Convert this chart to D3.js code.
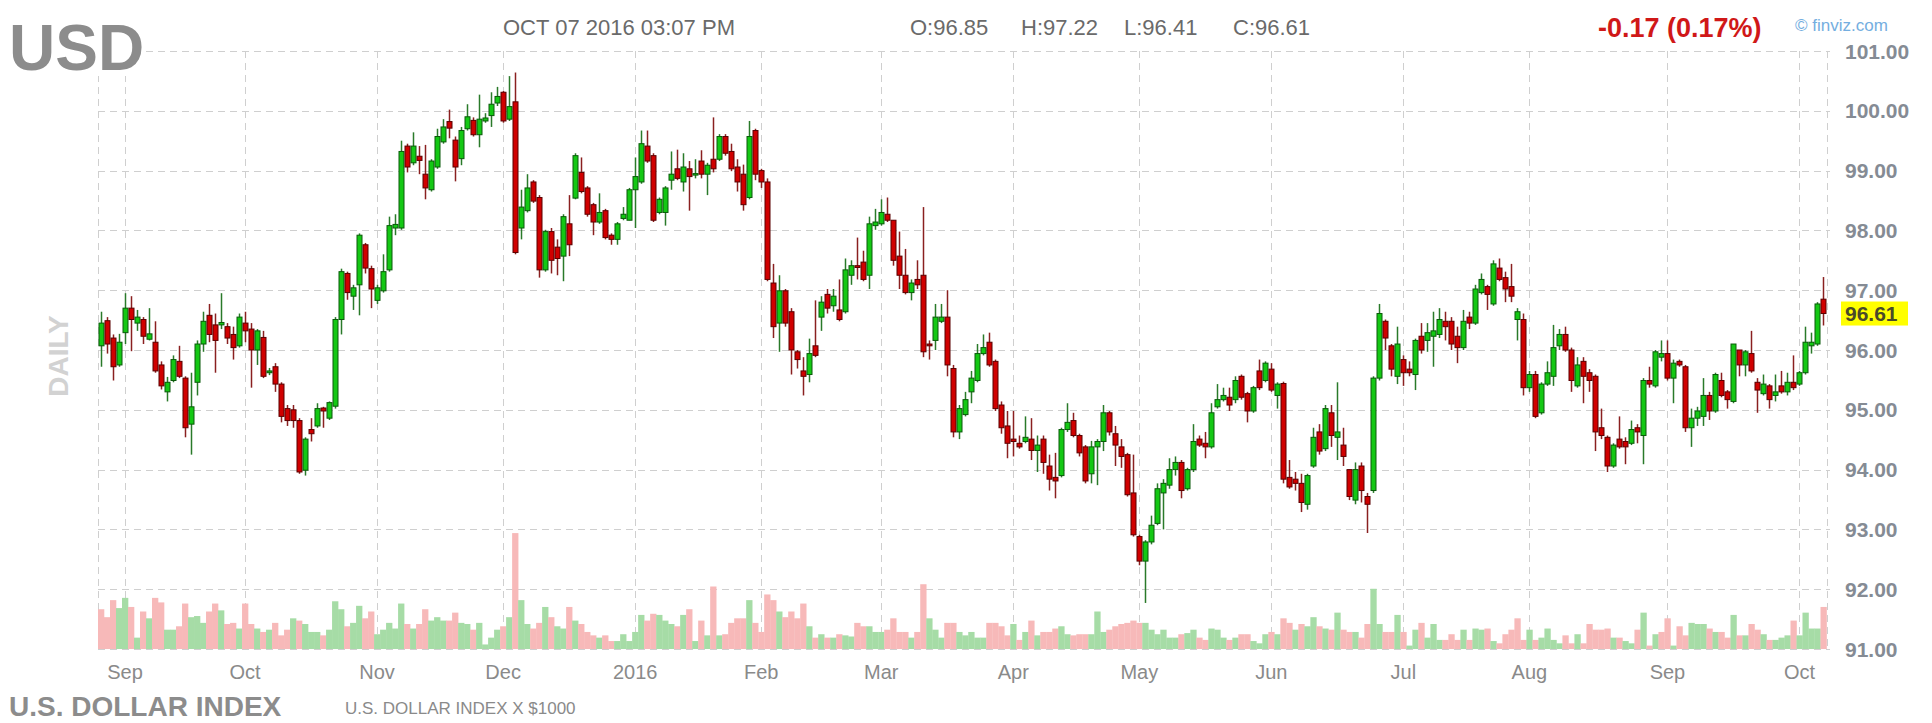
<!DOCTYPE html>
<html><head><meta charset="utf-8">
<script src="https://cdn.jsdelivr.net/npm/d3@7"></script>
<style>html,body{margin:0;padding:0;background:#fff;}svg{display:block;}</style>
</head><body>
<svg id="c" width="1932" height="723"></svg>
<script>
// ---- DATA (daily candles, Aug 26 2015 - Oct 7 2016) ----
const open=[96.07,96.49,96.20,95.75,96.29,96.70,96.45,96.51,96.18,96.13,95.75,95.30,95.49,95.81,95.53,94.76,95.46,96.10,96.58,96.42,96.42,96.39,96.26,96.07,96.45,96.35,96.00,96.21,95.62,95.72,95.43,95.02,95.00,94.82,93.99,94.67,94.73,95.03,94.86,95.06,96.51,97.28,96.90,97.09,97.76,97.36,96.83,96.99,97.34,98.04,98.04,99.41,99.13,99.24,98.94,98.68,99.06,99.48,99.82,99.51,99.20,99.70,99.84,99.60,99.83,99.92,100.13,100.31,99.86,100.15,98.04,98.33,98.81,98.55,97.34,97.98,97.72,97.57,98.11,98.54,98.97,98.71,98.43,98.14,98.33,97.92,97.85,98.20,98.17,98.68,98.81,99.41,99.25,98.30,98.30,98.84,99.03,98.81,99.03,98.93,99.16,98.94,99.19,99.19,99.57,99.32,99.06,98.94,98.55,99.67,99.00,98.81,97.12,96.45,96.99,96.64,95.97,95.65,95.59,96.07,96.55,96.93,96.74,96.67,96.64,97.25,97.41,97.47,97.25,98.08,98.11,98.27,98.17,97.57,97.25,96.96,97.18,97.25,96.10,96.16,96.48,96.55,95.69,94.63,94.92,95.30,95.49,95.94,96.13,95.81,95.08,94.73,94.51,94.44,94.47,94.51,94.32,94.51,94.06,93.87,93.90,94.67,94.82,94.57,94.38,93.93,94.38,94.47,94.95,94.60,94.38,94.25,93.61,92.88,92.47,92.79,93.10,93.61,93.74,94.00,94.12,93.68,94.00,94.51,94.44,94.38,95.05,95.17,95.21,95.17,95.56,95.27,94.98,95.65,95.49,95.68,95.24,95.44,93.87,93.84,93.77,93.42,94.06,94.63,94.35,94.95,94.54,94.41,94.00,93.49,94.06,93.55,93.65,95.53,96.48,96.07,95.56,95.84,95.68,95.59,96.23,96.16,96.23,96.26,96.48,96.48,96.23,96.04,96.55,96.45,96.96,97.06,96.77,97.37,97.21,97.06,96.51,96.51,95.37,95.59,94.95,95.43,95.56,96.07,96.26,96.00,95.40,95.81,95.62,95.56,94.70,94.54,94.06,94.51,94.47,94.44,94.70,94.57,95.49,95.40,95.88,95.94,95.53,95.81,95.72,94.70,94.86,94.89,95.24,94.98,95.49,95.30,95.14,96.00,95.75,95.94,95.46,95.27,95.40,95.24,95.40,95.30,95.46,95.43,95.62,96.07,96.10,96.85];
const high=[96.64,96.55,96.26,96.27,96.95,96.90,96.67,96.55,96.70,96.48,95.81,95.55,95.91,96.07,95.56,95.62,96.16,96.64,96.77,96.61,96.95,96.45,96.39,96.61,96.64,96.45,96.35,96.32,95.70,95.78,95.46,95.08,95.08,94.86,94.54,94.86,95.11,95.05,95.14,96.55,97.36,97.31,97.09,97.95,97.79,97.41,97.09,97.60,98.23,98.27,99.50,99.45,99.64,99.41,99.43,99.19,99.70,99.86,100.02,99.57,99.73,100.11,99.89,100.27,99.96,100.31,100.40,100.33,100.58,100.64,98.68,98.94,98.84,98.59,98.01,98.04,97.85,98.27,98.59,99.29,99.22,98.74,98.46,98.62,98.36,97.95,98.14,98.39,98.71,99.22,99.67,99.67,99.29,98.55,98.74,99.32,99.35,99.29,99.16,99.19,99.34,99.13,99.89,99.61,99.61,99.45,99.19,99.10,99.83,99.70,99.03,98.87,97.44,97.25,97.02,96.70,96.00,95.88,96.19,96.83,96.90,97.02,97.02,97.18,97.53,97.50,97.88,97.66,98.23,98.36,98.52,98.55,98.17,97.98,97.69,97.18,97.50,98.39,96.16,96.77,96.77,97.00,95.75,95.08,95.30,95.65,96.10,96.26,96.29,95.84,95.14,94.98,94.98,94.57,94.89,94.86,94.57,94.57,94.25,94.28,94.70,95.11,94.95,94.60,94.41,94.48,94.51,95.08,94.98,94.73,94.51,94.28,94.25,92.91,92.82,93.23,93.77,93.84,94.19,94.22,94.16,94.03,94.76,94.57,94.63,95.11,95.43,95.37,95.37,95.56,95.59,95.30,95.40,95.84,95.81,95.78,95.46,95.47,94.16,93.96,93.93,93.93,94.70,94.76,95.08,95.08,95.46,94.70,94.00,94.12,94.12,93.61,95.56,96.77,96.51,96.10,96.39,95.91,95.81,96.19,96.45,96.45,96.64,96.70,96.64,96.55,96.39,96.67,96.64,97.09,97.28,97.09,97.50,97.53,97.31,97.44,96.70,96.61,95.65,95.65,95.46,95.81,96.42,96.35,96.39,96.04,95.88,95.88,95.68,95.59,95.02,94.57,94.44,94.89,94.54,94.82,94.76,95.53,95.72,96.00,96.16,96.16,95.84,95.84,95.75,95.02,95.05,95.53,95.30,95.62,95.62,95.33,96.10,96.00,96.00,96.32,95.53,95.59,95.43,95.59,95.65,95.62,95.91,95.65,96.39,96.29,96.80,97.22];
const low=[95.72,95.94,95.49,95.72,96.10,95.98,96.32,96.10,96.16,95.62,95.34,95.14,95.46,95.53,94.54,94.25,95.24,95.97,96.13,95.62,96.35,96.10,95.84,96.04,96.13,95.37,95.75,95.53,95.58,95.30,94.79,94.73,94.70,93.93,93.90,94.47,94.70,94.70,94.83,95.02,96.26,96.84,96.67,96.58,97.28,96.70,96.77,96.96,97.31,97.92,98.01,98.97,99.09,98.94,98.52,98.65,99.03,99.45,99.54,98.82,99.09,99.67,99.57,99.39,99.80,99.73,100.08,99.80,99.83,97.60,97.85,98.30,98.46,97.21,97.31,97.28,97.25,97.15,97.57,98.52,98.62,98.23,97.92,98.11,97.85,97.76,97.76,98.17,98.17,98.04,98.78,99.13,98.14,98.27,98.08,98.68,98.84,98.65,98.33,98.87,98.87,98.59,98.97,99.16,99.25,98.99,98.65,98.33,98.52,98.84,98.71,97.15,96.20,95.97,96.39,95.59,95.69,95.24,95.46,95.88,96.32,96.61,96.64,96.48,96.61,97.09,97.18,97.15,97.02,98.01,98.08,98.14,97.41,97.02,96.93,96.83,97.02,95.88,95.84,96.00,96.45,95.56,94.54,94.51,94.89,95.11,95.46,95.91,95.72,94.98,94.60,94.19,94.22,94.35,94.44,94.16,93.96,93.93,93.65,93.52,93.87,94.63,94.54,94.22,93.77,93.77,93.74,94.31,94.57,94.06,94.03,93.55,92.88,92.40,91.77,92.75,93.07,93.00,93.68,93.90,93.52,93.65,93.96,94.38,94.19,94.35,95.02,95.14,94.98,95.11,95.17,94.79,94.95,95.33,95.46,95.30,95.02,93.77,93.68,93.65,93.29,93.33,94.03,94.25,94.31,94.38,94.16,94.06,93.49,93.42,93.45,92.94,93.61,95.49,96.00,95.56,95.43,95.40,95.56,95.33,95.94,95.97,95.72,96.20,96.16,96.00,95.78,96.00,96.35,96.42,96.93,96.67,96.74,97.15,96.80,96.80,96.16,95.24,95.30,94.86,94.92,95.40,95.40,96.00,95.97,95.30,95.37,95.11,95.30,94.31,94.51,93.96,94.03,94.35,94.09,94.41,94.44,94.09,95.37,95.37,95.81,95.49,95.11,95.72,94.63,94.38,94.73,94.73,94.83,94.95,95.21,95.02,95.11,95.56,95.56,95.62,94.95,95.24,95.02,95.14,95.27,95.24,95.33,95.40,95.59,95.94,96.07,96.41];
const close=[96.45,96.10,95.72,96.13,96.70,96.51,96.55,96.23,96.27,95.65,95.40,95.46,95.84,95.56,94.70,95.05,96.10,96.48,96.26,96.16,96.46,96.20,96.04,96.55,96.32,96.00,96.32,95.56,95.65,95.43,94.89,94.82,94.82,93.96,94.51,94.60,95.02,94.98,95.12,96.51,97.31,96.96,97.04,97.92,97.37,97.02,97.04,97.31,98.08,98.10,99.32,99.06,99.41,99.17,98.71,99.16,99.57,99.73,99.71,99.06,99.67,99.90,99.60,99.86,99.88,100.11,100.24,99.83,100.07,97.63,98.39,98.71,98.49,97.34,97.98,97.50,97.53,98.23,97.76,99.25,98.65,98.27,98.14,98.30,97.88,97.85,98.11,98.27,98.68,98.90,99.45,99.16,98.17,98.52,98.71,98.94,98.87,99.06,98.90,98.95,98.94,99.09,99.03,99.57,99.29,99.03,98.81,98.43,99.57,98.94,98.81,97.18,96.39,96.99,96.45,96.00,95.84,95.56,95.94,95.91,96.80,96.70,96.90,96.51,97.34,97.41,97.38,97.18,98.11,98.14,98.30,98.17,97.50,97.25,96.96,97.12,97.09,95.97,96.07,96.55,96.55,95.75,94.63,95.02,95.17,95.53,95.94,96.04,95.75,95.02,94.70,94.44,94.47,94.38,94.54,94.32,94.41,94.12,93.84,93.81,94.67,94.79,94.57,94.28,93.81,94.38,94.47,94.95,94.63,94.41,94.22,93.58,92.91,92.47,92.79,93.07,93.68,93.77,94.00,94.12,93.65,94.00,94.47,94.41,94.38,94.95,95.17,95.24,95.08,95.49,95.21,94.98,95.37,95.37,95.78,95.33,95.43,93.84,93.71,93.77,93.45,93.90,94.54,94.31,95.02,94.57,94.63,94.22,93.55,94.00,93.65,93.42,95.53,96.61,96.20,95.68,96.10,95.62,95.62,96.16,96.00,96.29,96.32,96.51,96.39,96.10,96.04,96.48,96.45,97.02,97.18,96.93,97.44,97.18,97.02,96.90,96.64,95.37,95.59,94.89,95.43,95.62,96.04,96.26,96.00,95.49,95.75,95.56,95.49,94.63,94.57,94.06,94.41,94.38,94.38,94.67,94.63,95.49,95.43,95.97,95.94,95.53,95.78,95.75,94.70,94.86,94.98,95.24,94.98,95.59,95.24,95.17,96.10,95.75,95.97,95.65,95.33,95.43,95.17,95.30,95.30,95.46,95.37,95.62,96.13,96.13,96.77,96.61];
// volume, thousands of contracts
const volume=[35,28,43,36,45,37,10,33,27,45,41,17,17,20,40,28,29,23,33,40,34,22,23,18,40,22,18,15,17,23,12,17,27,25,22,15,15,12,17,42,35,20,23,38,27,33,13,17,23,18,40,22,18,22,35,25,28,25,25,32,23,22,17,23,4,10,17,20,28,102,43,22,18,23,37,28,20,18,37,25,22,15,12,10,12,7,7,13,7,15,30,25,31,30,25,22,20,30,35,7,25,12,55,12,13,23,27,27,43,23,15,48,43,33,28,33,27,40,20,10,13,10,10,13,12,11,23,20,20,15,15,17,27,15,15,10,15,57,27,17,10,23,23,15,12,15,10,10,23,23,20,12,22,8,15,25,12,15,15,18,20,13,12,13,13,13,33,15,17,20,22,23,25,23,23,17,13,17,10,10,13,14,17,10,8,18,17,10,8,10,13,13,7,5,13,15,13,27,23,17,22,20,28,20,18,17,32,17,15,15,10,22,53,22,15,15,30,15,3,17,23,10,22,8,8,13,8,17,8,18,17,18,7,5,13,17,27,8,17,8,10,18,8,5,12,5,13,5,22,17,17,18,10,10,7,5,17,32,3,13,15,27,3,20,12,23,22,22,18,15,15,10,30,12,12,22,17,13,8,8,10,12,25,12,32,18,18,37];
const prevCloseBeforeFirst=96.80;
// x-axis: trading-day index of first session of each month, and its label
const monthStartIdx=[4,24,46,67,89,110,130,152,173,195,217,238,261,283];
const monthLabels=["Sep","Oct","Nov","Dec","2016","Feb","Mar","Apr","May","Jun","Jul","Aug","Sep","Oct"];
const priceTicks=[91,92,93,94,95,96,97,98,99,100,101];
const lastBar={o:96.85,h:97.22,l:96.41,c:96.61,chg:-0.17,pct:0.17};

// ---- CHART ----
const svg=d3.select("#c");
const N=close.length;
const idx=d3.range(N);
const L=98,R=1826.5,T=51,B=649;
const x=d3.scaleBand().domain(idx).range([L,R]).paddingInner(0).paddingOuter(0);
const cx=i=>x(i)+x.bandwidth()/2;
const y=d3.scaleLinear().domain([91,101]).range([B,T]);
const yv=d3.scaleLinear().domain([0,110]).range([B,B-125]);

const grid=svg.append("g").attr("stroke","#cfcfcf").attr("stroke-width",1).attr("stroke-dasharray","7,5");
grid.selectAll("line.h").data(priceTicks).join("line")
  .attr("x1",L).attr("x2",1830).attr("y1",d=>Math.round(y(d))+0.5).attr("y2",d=>Math.round(y(d))+0.5);
grid.selectAll("line.v").data(monthStartIdx).join("line")
  .attr("x1",d=>Math.round(cx(d))+0.5).attr("x2",d=>Math.round(cx(d))+0.5).attr("y1",T).attr("y2",B);
grid.append("line").attr("x1",L+0.5).attr("x2",L+0.5).attr("y1",T).attr("y2",B);
grid.append("line").attr("x1",1827.5).attr("x2",1827.5).attr("y1",T).attr("y2",B);

// volume bars
const up=i=>close[i]>=(i>0?close[i-1]:prevCloseBeforeFirst);
svg.append("g").selectAll("rect").data(idx).join("rect")
  .attr("x",i=>x(i)).attr("width",x.bandwidth()+0.3)
  .attr("y",i=>yv(volume[i])).attr("height",i=>B-yv(volume[i]))
  .attr("fill",i=>up(i)?"#a6dca6":"#f7b9b9");

// candles
const g=svg.append("g");
const bull=i=>close[i]>=open[i];
g.selectAll("line").data(idx).join("line")
  .attr("x1",i=>Math.round(cx(i))+0.5).attr("x2",i=>Math.round(cx(i))+0.5)
  .attr("y1",i=>y(high[i])).attr("y2",i=>y(low[i]))
  .attr("stroke",i=>bull(i)?"#2a7a2a":"#8a2020").attr("stroke-width",1.5);
g.selectAll("rect").data(idx).join("rect")
  .attr("x",i=>Math.round(cx(i))-2).attr("width",5)
  .attr("y",i=>y(Math.max(open[i],close[i])))
  .attr("height",i=>Math.max(1.5,Math.abs(y(open[i])-y(close[i]))))
  .attr("fill",i=>bull(i)?"#14c814":"#d00000")
  .attr("stroke",i=>bull(i)?"#0a5a0a":"#5a0000").attr("stroke-width",1);

// y axis labels
const yl=svg.append("g").attr("font-family","Liberation Sans, Arial, sans-serif").attr("font-weight","bold").attr("font-size",21).attr("fill","#858b94");
yl.selectAll("text").data(priceTicks).join("text")
  .attr("x",1845).attr("y",d=>y(d)).attr("dy","0.36em").text(d=>d.toFixed(2));
svg.append("rect").attr("x",1841).attr("y",y(lastBar.c)-12).attr("width",67).attr("height",24).attr("fill","#ffff00");
svg.append("text").attr("x",1845).attr("y",y(lastBar.c)).attr("dy","0.36em")
  .attr("font-family","Liberation Sans, Arial, sans-serif").attr("font-weight","bold").attr("font-size",21).attr("fill","#4a4a2a").text(lastBar.c.toFixed(2));

// x axis labels
svg.append("g").attr("font-family","Liberation Sans, Arial, sans-serif").attr("font-size",20).attr("fill","#8a8a8a").attr("text-anchor","middle")
  .selectAll("text").data(monthStartIdx).join("text")
  .attr("x",d=>cx(d)).attr("y",679).text((d,i)=>monthLabels[i]);

// titles
svg.append("rect").attr("x",6).attr("y",20).attr("width",140).attr("height",56).attr("fill","#fff");
svg.append("text").attr("x",9).attr("y",70).attr("font-family","Liberation Sans, Arial, sans-serif").attr("font-weight","bold").attr("font-size",64).attr("fill","#8c8c8c").text("USD");
const hdr=svg.append("g").attr("font-family","Liberation Sans, Arial, sans-serif").attr("font-size",22).attr("fill","#6a6a6a");
hdr.append("text").attr("x",503).attr("y",35).text("OCT 07 2016 03:07 PM");
hdr.append("text").attr("x",910).attr("y",35).text("O:"+lastBar.o.toFixed(2));
hdr.append("text").attr("x",1021).attr("y",35).text("H:"+lastBar.h.toFixed(2));
hdr.append("text").attr("x",1124).attr("y",35).text("L:"+lastBar.l.toFixed(2));
hdr.append("text").attr("x",1233).attr("y",35).text("C:"+lastBar.c.toFixed(2));
svg.append("text").attr("x",1598).attr("y",37).attr("font-family","Liberation Sans, Arial, sans-serif").attr("font-weight","bold").attr("font-size",27).attr("fill","#d01818")
  .text(lastBar.chg.toFixed(2)+" ("+lastBar.pct.toFixed(2)+"%)");
svg.append("text").attr("x",1795).attr("y",31).attr("font-family","Liberation Sans, Arial, sans-serif").attr("font-size",17).attr("fill","#74aee0").text("\u00A9 finviz.com");
svg.append("text").attr("transform","translate(58,356) rotate(-90)").attr("text-anchor","middle").attr("dy","0.36em")
  .attr("font-family","Liberation Sans, Arial, sans-serif").attr("font-weight","bold").attr("font-size",28).attr("fill","#d2d2d2").text("DAILY");
svg.append("text").attr("x",9).attr("y",716).attr("font-family","Liberation Sans, Arial, sans-serif").attr("font-weight","bold").attr("font-size",28).attr("fill","#8c8c8c").text("U.S. DOLLAR INDEX");
svg.append("text").attr("x",345).attr("y",714).attr("font-family","Liberation Sans, Arial, sans-serif").attr("font-size",17).attr("fill","#8a8a8a").text("U.S. DOLLAR INDEX X $1000");
</script>
</body></html>
